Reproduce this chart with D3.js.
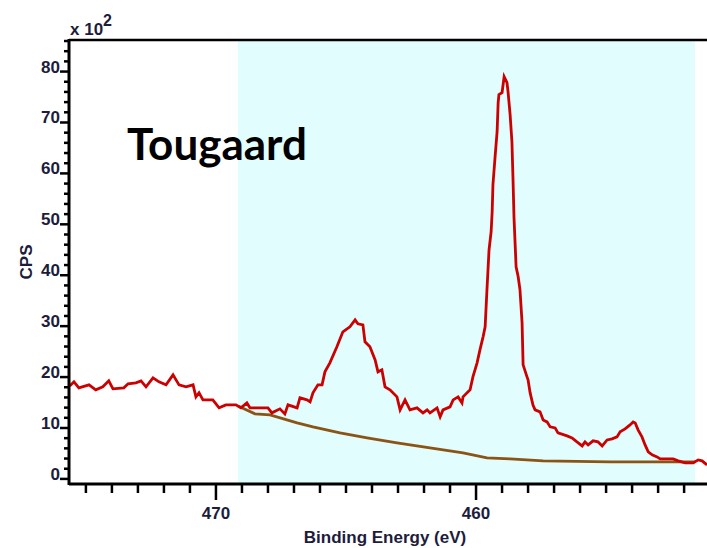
<!DOCTYPE html>
<html>
<head>
<meta charset="utf-8">
<script src="https://cdn.jsdelivr.net/npm/d3@7"></script>
<style>
  body { margin: 0; background: #fff; }
  svg { display: block; }
  .tick-label { font-family: Arial, "Liberation Sans", sans-serif; font-weight: bold; font-size: 17px; fill: #1c1c3c; }
</style>
</head>
<body>
<svg id="chart" width="707" height="548"></svg>
<script>
// spectrum (binding energy eV, counts per second)
var spectrumBE = [475.62,475.46,475.27,474.88,474.62,474.35,474.12,473.96,473.54,473.38,473.08,472.88,472.69,472.42,472.19,471.92,471.65,471.42,471.15,470.88,470.77,470.65,470.50,470.12,469.88,469.62,469.23,469.04,468.81,468.69,468.42,468.00,467.85,467.54,467.35,467.23,466.88,466.77,466.50,466.38,466.27,466.08,465.92,465.81,465.62,465.35,465.12,464.85,464.65,464.54,464.35,464.27,464.08,463.88,463.77,463.62,463.50,463.31,463.04,462.92,462.73,462.54,462.27,462.04,461.88,461.77,461.50,461.38,461.27,461.00,460.88,460.69,460.54,460.50,460.23,460.12,459.96,459.85,459.73,459.65,459.58,459.54,459.50,459.42,459.38,459.35,459.27,459.19,459.15,459.12,459.00,458.96,458.92,458.81,458.77,458.69,458.62,458.58,458.54,458.46,458.38,458.31,458.23,458.19,458.04,458.00,457.92,457.81,457.73,457.54,457.42,457.27,457.15,456.96,456.85,456.50,456.31,456.12,455.92,455.81,455.69,455.50,455.31,455.15,454.96,454.77,454.58,454.46,454.27,454.08,453.96,453.88,453.77,453.62,453.50,453.38,453.23,453.04,452.92,452.42,452.23,451.96,451.65,451.46,451.31,451.12];
var spectrumCPS = [1827,1906,1788,1847,1749,1808,1926,1769,1788,1867,1886,1926,1808,1985,1906,1847,2044,1847,1808,1847,1611,1690,1552,1552,1395,1454,1454,1395,1493,1395,1395,1395,1297,1376,1277,1454,1395,1592,1552,1513,1690,1847,1847,2103,2279,2594,2889,2987,3124,3046,3026,2692,2594,2338,2103,2142,1808,1749,1611,1356,1552,1356,1395,1297,1356,1297,1395,1218,1356,1415,1552,1611,1493,1611,1749,2004,2279,2535,2790,2987,3714,4107,4500,4854,5247,5777,6308,6819,7388,7546,7585,7742,7899,7781,7605,7153,6622,5915,5129,4166,3969,3714,3065,2240,2004,1945,1690,1450,1356,1317,1159,1120,1022,1002,904,845,806,727,648,727,668,747,727,648,766,786,825,924,983,1061,1120,1100,963,825,668,531,472,432,393,393,354,314,314,373,354,275];

// Tougaard background
var backgroundBE = [469.15,468.50,467.92,466.88,466.27,465.23,464.19,463.04,461.77,460.50,459.58,458.69,457.42,454.85,452.27,451.58];
var backgroundCPS = [1434,1277,1258,1100,1022,904,806,707,609,511,413,393,354,334,334,334];

// fitting region
var regionBE = [469.15, 451.58];

var xMajorTicks = [470, 460];
var xMinorTicks = d3.range(452, 476).filter(d => d % 10 != 0);
var yMajorTicks = [0, 1000, 2000, 3000, 4000, 5000, 6000, 7000, 8000];
var yMinorTicks = d3.range(0, 8700, 200).filter(d => d % 1000 != 0);

var margin = { top: 40, right: 0, bottom: 64, left: 69 };
var width = 707, height = 548;

var svg = d3.select('#chart');

var x = d3.scaleLinear().domain([475.65, 451.12]).range([margin.left, width - margin.right]);
var y = d3.scaleLinear().domain([-100, 8620]).range([height - margin.bottom, margin.top]);

svg.append('defs').append('clipPath').attr('id', 'plotClip')
    .append('rect')
    .attr('x', margin.left).attr('y', margin.top)
    .attr('width', width - margin.left - margin.right)
    .attr('height', height - margin.top - margin.bottom);

// shaded region
svg.append('rect')
    .attr('x', x(regionBE[0]))
    .attr('y', margin.top)
    .attr('width', x(regionBE[1]) - x(regionBE[0]))
    .attr('height', height - margin.bottom - margin.top)
    .attr('fill', '#e1fdfd');

let spectrum = spectrumBE.map((d, i) => ({ be: d, cps: spectrumCPS[i] }));
let background = backgroundBE.map((d, i) => ({ be: d, cps: backgroundCPS[i] }));

let line = d3.line().x(d => x(d.be)).y(d => y(d.cps));

let plotG = svg.append('g').attr('clip-path', 'url(#plotClip)');

plotG.append('path')
    .datum(background)
    .attr('d', line)
    .attr('fill', 'none')
    .attr('stroke', '#8b5414')
    .attr('stroke-width', 2.8);

plotG.append('path')
    .datum(spectrum)
    .attr('d', line)
    .attr('fill', 'none')
    .attr('stroke', '#cc0000')
    .attr('stroke-width', 2.8)
    .attr('stroke-linejoin', 'miter');

// axes
let axisY = height - margin.bottom;

svg.append('line')
    .attr('x1', margin.left).attr('x2', width)
    .attr('y1', margin.top).attr('y2', margin.top)
    .attr('stroke', '#000').attr('stroke-width', 2.5);

svg.append('line')
    .attr('x1', margin.left).attr('x2', width)
    .attr('y1', axisY).attr('y2', axisY)
    .attr('stroke', '#000').attr('stroke-width', 3);

svg.append('line')
    .attr('x1', margin.left).attr('x2', margin.left)
    .attr('y1', margin.top - 1).attr('y2', axisY + 1)
    .attr('stroke', '#000').attr('stroke-width', 3);

// x ticks
svg.selectAll('.x-minor')
    .data(xMinorTicks)
    .join('line')
    .classed('x-minor', true)
    .attr('x1', d => x(d)).attr('x2', d => x(d))
    .attr('y1', axisY).attr('y2', axisY + 9)
    .attr('stroke', '#000').attr('stroke-width', 2.5);

svg.selectAll('.x-major')
    .data(xMajorTicks)
    .join('line')
    .classed('x-major', true)
    .attr('x1', d => x(d)).attr('x2', d => x(d))
    .attr('y1', axisY).attr('y2', axisY + 16)
    .attr('stroke', '#000').attr('stroke-width', 2.5);

svg.selectAll('.x-label')
    .data(xMajorTicks)
    .join('text')
    .attr('class', 'tick-label')
    .attr('x', d => x(d))
    .attr('y', axisY + 35)
    .attr('text-anchor', 'middle')
    .text(d => d);

// y ticks
svg.selectAll('.y-minor')
    .data(yMinorTicks)
    .join('line')
    .classed('y-minor', true)
    .attr('x1', margin.left - 5).attr('x2', margin.left)
    .attr('y1', d => y(d)).attr('y2', d => y(d))
    .attr('stroke', '#000').attr('stroke-width', 2.5);

svg.selectAll('.y-major')
    .data(yMajorTicks)
    .join('line')
    .classed('y-major', true)
    .attr('x1', margin.left - 9).attr('x2', margin.left)
    .attr('y1', d => y(d)).attr('y2', d => y(d))
    .attr('stroke', '#000').attr('stroke-width', 2.5);

svg.selectAll('.y-label')
    .data(yMajorTicks)
    .join('text')
    .attr('class', 'tick-label')
    .attr('x', margin.left - 9)
    .attr('y', d => y(d) + 1)
    .attr('text-anchor', 'end')
    .text(d => d / 100);

// multiplier
let mult = svg.append('text')
    .attr('class', 'tick-label')
    .attr('x', 70)
    .attr('y', 35);
mult.append('tspan').text('x 10');
mult.append('tspan').attr('dy', -9).attr('font-size', 16).text('2');

// axis titles
svg.append('text')
    .attr('class', 'tick-label')
    .attr('x', 385)
    .attr('y', 543)
    .attr('text-anchor', 'middle')
    .attr('font-size', 18)
    .text('Binding Energy (eV)');

svg.append('text')
    .attr('class', 'tick-label')
    .attr('transform', 'translate(32,262) rotate(-90)')
    .attr('text-anchor', 'middle')
    .attr('font-size', 18)
    .text('CPS');

// method name
svg.append('text')
    .attr('x', 127)
    .attr('y', 160)
    .attr('font-family', 'Lato, "Open Sans", sans-serif')
    .attr('font-weight', 'bold')
    .attr('font-size', 44)
    .attr('fill', '#000')
    .text('Tougaard');
</script>
</body>
</html>
